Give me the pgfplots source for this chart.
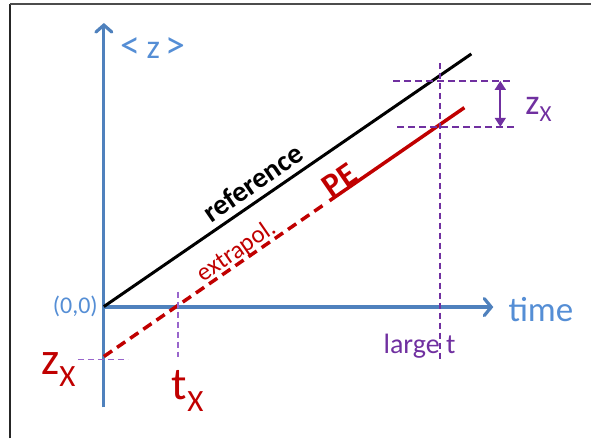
\documentclass[border=0pt]{standalone}
\usepackage{pgfplots}
\pgfplotsset{compat=1.18}
\usepackage{fontspec}
\setmainfont{Carlito}
\usetikzlibrary{arrows.meta}
\definecolor{axblue}{HTML}{4F81BD}
\definecolor{txblue}{HTML}{558ED5}
\definecolor{myred}{HTML}{C00000}
\definecolor{mypurple}{HTML}{7030A0}
\definecolor{lightpurple}{HTML}{9966CC}
\newcommand{\fs}[1]{\fontsize{#1}{#1}\selectfont}
\begin{document}
\begin{tikzpicture}
\begin{axis}[
  x=1pt, y=1pt,
  xmin=0, xmax=592, ymin=0, ymax=439,
  hide axis, clip=false, enlargelimits=false,
  every axis plot/.append style={mark=none},
]
% bounding area
\addplot[draw=none] coordinates {(0,0) (592,439)};
% frame
\addplot[draw=black!85, line width=1.4pt] coordinates {(10,0) (10,435)};
\addplot[draw=black!70, line width=1.6pt] coordinates {(10,435) (592,435)};
% axes
\addplot[axblue, line width=3.2pt, -{Straight Barb[length=7pt,width=16pt,line cap=round]}] coordinates {(104,31) (104,416)};
\addplot[axblue, line width=3.2pt, -{Straight Barb[length=7pt,width=17pt,line cap=round]}] coordinates {(104,131.5) (494,131.5)};
% reference line
\addplot[black, line width=3pt] coordinates {(104,132) (472,385)};
% PE line: dashed extrapolation and solid part
\addplot[myred, line width=3.5pt, dash pattern=on 10pt off 6pt] coordinates {(104,82) (326,235.2)};
\addplot[myred, line width=3.5pt] coordinates {(330,238) (465,331.2)};
% purple guides
\addplot[mypurple, line width=2pt, dash pattern=on 6pt off 4pt] coordinates {(441,376) (441,77)};
\addplot[mypurple, line width=2pt, dash pattern=on 7pt off 4pt] coordinates {(394,358) (513,358)};
\addplot[mypurple, line width=2pt, dash pattern=on 7pt off 4pt] coordinates {(398,312) (518,312)};
\addplot[mypurple, line width=1.8pt, {Triangle[length=9pt,width=11pt]}-{Triangle[length=9pt,width=11pt]}] coordinates {(501,358) (501,312)};
\addplot[lightpurple, line width=1.6pt, dash pattern=on 6pt off 4pt] coordinates {(178,147) (178,82)};
\addplot[lightpurple, line width=1.6pt, dash pattern=on 6pt off 4pt] coordinates {(78,79) (128,79)};
% labels
\node[txblue, anchor=center, inner sep=0pt] at (axis cs:153,391) {\fs{40}<\,\fs{34}z\,\fs{40}>};
\node[txblue, anchor=east, inner sep=0pt] at (axis cs:98,132) {\fs{24}(0,0)};
\node[txblue, anchor=base west, inner sep=0pt] at (axis cs:509,117) {\fs{35}time};
\node[mypurple, anchor=base west, inner sep=0pt] at (axis cs:384,85) {\fs{28}large t};
\node[mypurple, anchor=base west, inner sep=0pt] at (axis cs:526,324) {\fs{36}z\raisebox{-7pt}{\fs{23}X}};
\node[myred, anchor=base west, inner sep=0pt] at (axis cs:41,64) {\fs{46}z\raisebox{-12pt}{\fs{31}X}};
\node[myred, anchor=base west, inner sep=0pt] at (axis cs:172,39) {\fs{46}t\raisebox{-12pt}{\fs{31}X}};
\node[black, rotate=34.6, anchor=center, inner sep=0pt] at (axis cs:253,256) {\fs{29}\bfseries reference};
\node[myred, rotate=34.6, anchor=center, inner sep=0pt] at (axis cs:340,259) {\fs{33}\bfseries PE};
\node[myred, rotate=34.6, anchor=center, inner sep=0pt] at (axis cs:237,187) {\fs{25}extrapol.};
\end{axis}
\end{tikzpicture}
\end{document}
